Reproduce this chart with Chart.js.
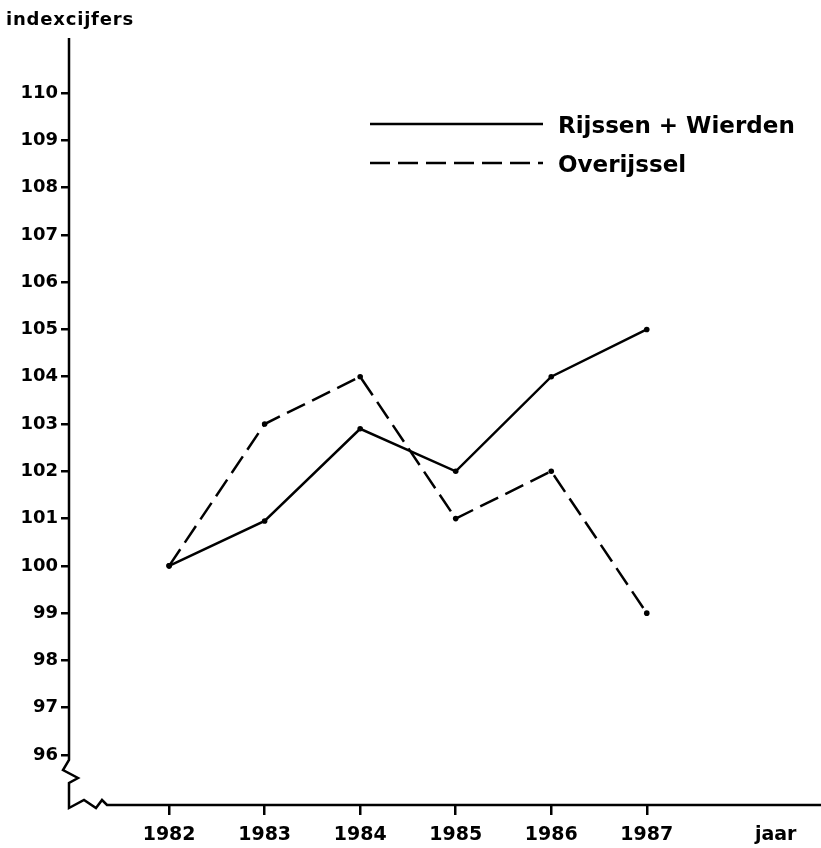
<!DOCTYPE html>
<html>
<head>
<meta charset="utf-8">
<script src="https://cdn.jsdelivr.net/npm/chart.js@4.4.1/dist/chart.umd.min.js"></script>
<style>
  html, body { margin: 0; padding: 0; background: #fff; overflow: hidden; }
  #wrap { width: 821px; height: 848px; }
  canvas { display: block; }
</style>
</head>
<body>
<div id="wrap"><canvas id="c" width="821" height="848"></canvas></div>
<script>
// ---- data ----
const years = [1982, 1983, 1984, 1985, 1986, 1987];
const rijssenWierden = [100, 100.95, 102.9, 102, 104, 105];
const overijssel = [100, 103, 104, 101, 102, 99];
const seriesNames = ['Rijssen + Wierden', 'Overijssel'];
const yTickValues = [96, 97, 98, 99, 100, 101, 102, 103, 104, 105, 106, 107, 108, 109, 110];
const xTickLabels = ['1982', '1983', '1984', '1985', '1986', '1987'];
const xEndLabel = 'jaar';
const xEndPos = 1988.35;
const yTitle = 'indexcijfers';

const FONT = '"DejaVu Sans", "Liberation Sans", Arial, sans-serif';
const INK = '#000';

function pts(vals) { return years.map((y, i) => ({ x: y, y: vals[i] })); }

const axisPlugin = {
  id: 'customAxes',
  beforeDatasetsDraw(chart) {
    const ctx = chart.ctx, a = chart.chartArea;
    const ys = chart.scales.y;
    const L = a.left, B = a.bottom;
    const brk = ys.getPixelForValue(96) + 5;
    ctx.save();
    ctx.strokeStyle = INK;
    ctx.lineWidth = 2.5;
    ctx.lineJoin = 'miter';
    ctx.beginPath();
    ctx.moveTo(L, a.top);
    ctx.lineTo(L, brk);
    ctx.lineTo(L - 6, brk + 10);
    ctx.lineTo(L + 9, brk + 18);
    ctx.lineTo(L, brk + 23);
    ctx.lineTo(L, B + 3);
    ctx.lineTo(L + 15, B - 5);
    ctx.lineTo(L + 27, B + 3);
    ctx.lineTo(L + 33, B - 5);
    ctx.lineTo(L + 38, B);
    ctx.lineTo(chart.width, B);
    ctx.stroke();
    ctx.restore();
  },
  afterDraw(chart) {
    const ctx = chart.ctx;
    ctx.save();
    ctx.fillStyle = INK;
    ctx.font = 'bold 18px ' + FONT;
    ctx.textBaseline = 'alphabetic';
    ctx.textAlign = 'left';
    try { ctx.letterSpacing = '0.8px'; } catch (e) {}
    ctx.fillText(yTitle, 6, 25);
    try { ctx.letterSpacing = '0px'; } catch (e) {}
    // legend
    const rows = [{ y: 124, ds: chart.data.datasets[0] }, { y: 163, ds: chart.data.datasets[1] }];
    rows.forEach(r => {
      ctx.strokeStyle = INK;
      ctx.lineWidth = 2.5;
      ctx.setLineDash(r.ds.borderDash || []);
      ctx.beginPath();
      ctx.moveTo(370, r.y);
      ctx.lineTo(543, r.y);
      ctx.stroke();
      ctx.setLineDash([]);
      ctx.font = 'bold 23px ' + FONT;
      ctx.textBaseline = 'middle';
      ctx.fillText(r.ds.label, 558, r.y + 3);
    });
    ctx.restore();
  }
};

new Chart(document.getElementById('c'), {
  type: 'line',
  data: {
    datasets: [
      { label: seriesNames[0], data: pts(rijssenWierden), borderColor: INK, backgroundColor: INK,
        borderWidth: 2.5, pointRadius: 2.8, pointBackgroundColor: INK, pointBorderWidth: 0, tension: 0 },
      { label: seriesNames[1], data: pts(overijssel), borderColor: INK, backgroundColor: INK,
        borderWidth: 2.5, borderDash: [20, 8], pointRadius: 2.8, pointBackgroundColor: INK, pointBorderWidth: 0, tension: 0 }
    ]
  },
  options: {
    responsive: false,
    animation: false,
    devicePixelRatio: 1,
    layout: { padding: { top: 38, right: 0, left: 0, bottom: 0 } },
    plugins: { legend: { display: false }, tooltip: { enabled: false }, title: { display: false } },
    scales: {
      x: {
        type: 'linear',
        min: 1980.952,
        max: 1988.782,
        afterFit(s) { s.height = 43; s.paddingLeft = 0; s.paddingRight = 0; },
        afterBuildTicks(s) { s.ticks = years.map(v => ({ value: v })).concat([{ value: xEndPos }]); },
        border: { display: false },
        grid: {
          drawOnChartArea: false, drawTicks: true, tickLength: 10, lineWidth: 2.5,
          color: c => (c.tick && c.tick.value > 1988 ? 'rgba(0,0,0,0)' : INK)
        },
        ticks: {
          color: INK, padding: 9, autoSkip: false, maxRotation: 0,
          font: { family: FONT, weight: 'bold', size: 19 },
          callback: v => (v > 1988 ? xEndLabel : xTickLabels[years.indexOf(v)])
        }
      },
      y: {
        type: 'linear',
        min: 94.943,
        max: 111.163,
        afterFit(s) { s.width = 69; s.paddingTop = 0; s.paddingBottom = 0; },
        afterBuildTicks(s) { s.ticks = yTickValues.map(v => ({ value: v })); },
        border: { display: false },
        grid: { drawOnChartArea: false, drawTicks: true, tickLength: 8, lineWidth: 2.5, color: INK },
        ticks: {
          color: INK, padding: 3, autoSkip: false,
          font: { family: FONT, weight: 'bold', size: 18 },
          callback: v => String(v)
        }
      }
    }
  },
  plugins: [axisPlugin]
});
</script>
</body>
</html>
